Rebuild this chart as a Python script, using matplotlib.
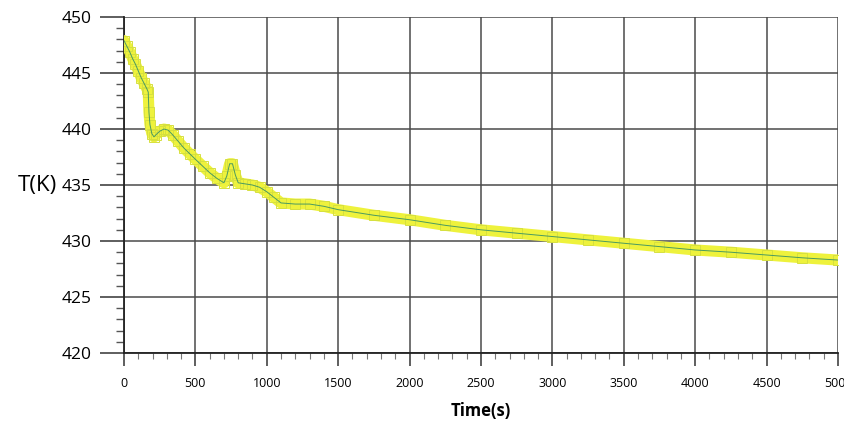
import numpy as np
import matplotlib.pyplot as plt
from matplotlib.ticker import MultipleLocator

plt.rcParams['font.family'] = ['Open Sans', 'DejaVu Sans']

# Temperature vs time
time_s = [0, 20, 40, 60, 80, 100, 120, 140, 160, 170, 175, 182, 195, 210, 225,
          250, 280, 310, 340, 380, 420, 460, 500, 550, 600, 650, 700, 720,
          740, 760, 780, 800, 850, 900, 950, 1000, 1050, 1100, 1200, 1300,
          1400, 1500, 1750, 2000, 2250, 2500, 2750, 3000, 3250, 3500, 3750,
          4000, 4250, 4500, 4750, 5000]
temp_k = [447.9, 447.4, 446.9, 446.3, 445.8, 445.2, 444.6, 444.1, 443.6, 443.3,
          441.5, 440.4, 439.6, 439.3, 439.5, 439.8, 440.0, 439.9, 439.5, 438.9,
          438.3, 437.8, 437.3, 436.7, 436.1, 435.6, 435.2, 435.8, 436.9, 436.9,
          435.9, 435.2, 435.1, 435.0, 434.8, 434.4, 433.9, 433.4, 433.3, 433.3,
          433.1, 432.8, 432.3, 431.9, 431.4, 431.0, 430.7, 430.4, 430.1, 429.8,
          429.5, 429.2, 429.0, 428.75, 428.5, 428.3]

x_ticks = [0, 500, 1000, 1500, 2000, 2500, 3000, 3500, 4000, 4500, 5000]
y_ticks = [420, 425, 430, 435, 440, 445, 450]

fig = plt.figure(figsize=(8.45, 4.29), dpi=100)
ax = fig.add_axes([0.1467, 0.1772, 0.845, 0.783])

# thick yellow band with hollow square markers and a thin green line inside
ax.plot(time_s, temp_k, color='#eef23c', linewidth=8, solid_capstyle='round',
        solid_joinstyle='round', zorder=3)
ax.plot(time_s, temp_k, linestyle='none', marker='s', markersize=6.5,
        markerfacecolor='none', markeredgecolor='#d6e040', markeredgewidth=0.7,
        zorder=4)
ax.plot(time_s, temp_k, color='#4a9a60', linewidth=0.7, zorder=5)

ax.set_xlim(0, 5000)
ax.set_ylim(420, 450)
ax.set_xticks(x_ticks)
ax.set_yticks(y_ticks)
ax.xaxis.set_minor_locator(MultipleLocator(100))
ax.yaxis.set_minor_locator(MultipleLocator(1))

ax.grid(True, which='major', color='#4a4a4a', linewidth=1.1)
ax.set_axisbelow(True)

for side in ['top', 'right']:
    ax.spines[side].set_visible(False)
for side in ['left', 'bottom']:
    ax.spines[side].set_color('#222222')
    ax.spines[side].set_linewidth(1.3)

ax.tick_params(axis='y', which='major', direction='out', length=17, width=1.1,
               color='#333333', labelsize=12.5, pad=6)
ax.tick_params(axis='y', which='minor', direction='out', length=6, width=1.0,
               color='#555555')
ax.tick_params(axis='x', which='major', direction='out', length=9, width=1.1,
               color='#333333', labelsize=9, pad=8)
ax.tick_params(axis='x', which='minor', direction='out', length=4, width=0.8,
               color='#777777')

ax.set_xlabel('Time(s)', fontsize=12, fontweight='bold', labelpad=9)
ax.set_ylabel('T(K)', fontsize=16, rotation=0, labelpad=18, va='center')

fig.savefig('out.png', dpi=100)
